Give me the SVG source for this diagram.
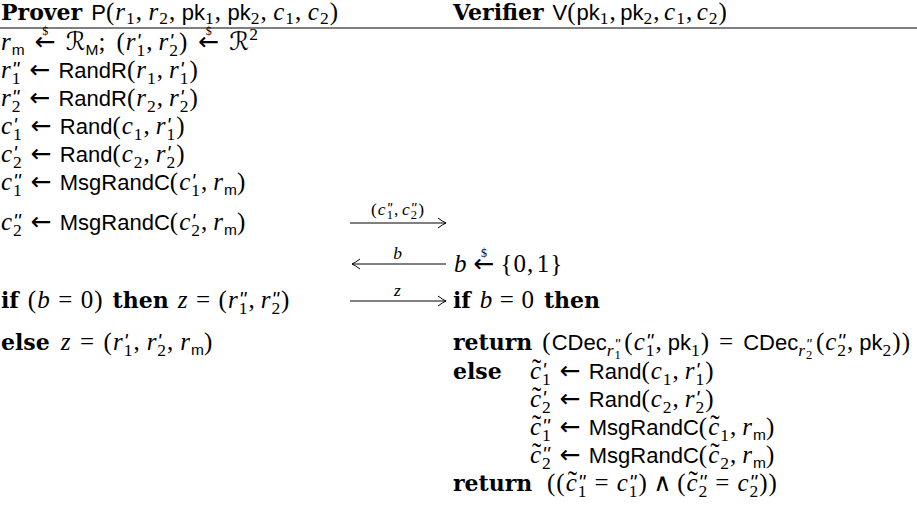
<svg xmlns="http://www.w3.org/2000/svg" width="917" height="508" viewBox="0 0 917 508">
<style>
text{font-family:"Liberation Serif",serif;font-size:25px;letter-spacing:1px;fill:#000}
.i{font-style:italic}
.s{font-family:"Liberation Sans",sans-serif;font-size:22px;letter-spacing:0}
.b{font-family:"DejaVu Serif",serif;font-weight:bold;font-size:22px;letter-spacing:0}
.sb{font-size:17.5px}
.si{font-size:17.5px;font-style:italic}
.ss{font-family:"Liberation Sans",sans-serif;font-size:15.5px;letter-spacing:0}
.sss{font-size:12.5px}
.pr{font-family:"Liberation Sans",sans-serif;font-style:italic;font-size:20px;letter-spacing:0}
.prs{font-family:"Liberation Sans",sans-serif;font-style:italic;font-size:14px;letter-spacing:0}
.a{font-family:"DejaVu Sans",sans-serif;letter-spacing:0}
.d{font-size:12px;letter-spacing:0}
.cal{font-family:"DejaVu Serif","DejaVu Sans","Noto Sans",serif;letter-spacing:0}
.tl{font-size:28px;letter-spacing:0}
.lab{font-size:17.5px}
.ln{stroke:#000;stroke-width:1;fill:none}
</style>
<defs>
<marker id="ah" viewBox="-9 -6 10 12" refX="0" refY="0" markerWidth="10" markerHeight="12" markerUnits="userSpaceOnUse" orient="auto-start-reverse"><path d="M-8,-5 Q-3,-1.2 0,0 Q-3,1.2 -8,5" fill="none" stroke="#000" stroke-width="1"/></marker>
</defs>
<rect width="917" height="508" fill="#fff"/>
<g id="header">
<line class="ln" x1="0" y1="28" x2="917" y2="28"/>
</g>
<g id="prover">
<text x="1" y="20"><tspan class="b">Prover</tspan><tspan class="s" dx="9">P</tspan><tspan>(</tspan><tspan class="i">r</tspan><tspan class="sb" dy="4">1</tspan><tspan dy="-4">,</tspan><tspan class="i" dx="5.5">r</tspan><tspan class="sb" dy="4">2</tspan><tspan dy="-4">,</tspan><tspan class="s" dx="5.5">pk</tspan><tspan class="sb" dy="4">1</tspan><tspan dy="-4">,</tspan><tspan class="s" dx="5.5">pk</tspan><tspan class="sb" dy="4">2</tspan><tspan dy="-4">,</tspan><tspan class="i" dx="5.5">c</tspan><tspan class="sb" dy="4">1</tspan><tspan dy="-4">,</tspan><tspan class="i" dx="5.5">c</tspan><tspan class="sb" dy="4">2</tspan><tspan dy="-4">)</tspan></text>
<text x="1" y="50"><tspan class="i">r</tspan><tspan class="ss" dy="4.5">m</tspan><tspan class="a" dx="10" dy="-4.5">←</tspan><tspan class="d" dx="-13.45" dy="-15">$</tspan><tspan class="cal" dx="17.5" dy="15">ℛ</tspan><tspan class="ss" dy="4.5">M</tspan><tspan dy="-4.5">;</tspan><tspan dx="10">(</tspan><tspan class="i">r</tspan><tspan class="sb" dy="5.5">1</tspan><tspan class="pr" dx="-9.75" dy="-7.5">'</tspan><tspan dx="5.9" dy="2">,</tspan><tspan class="i" dx="5">r</tspan><tspan class="sb" dy="5.5">2</tspan><tspan class="pr" dx="-9.75" dy="-7.5">'</tspan><tspan dx="5.9" dy="2">)</tspan><tspan class="a" dx="10">←</tspan><tspan class="d" dx="-13.45" dy="-15">$</tspan><tspan class="cal" dx="17.5" dy="15">ℛ</tspan><tspan class="sb" dy="-10">2</tspan></text>
<text x="1" y="78"><tspan class="i">r</tspan><tspan class="sb" dy="5.5">1</tspan><tspan class="pr" dx="-9.75" dy="-7.5">''</tspan><tspan class="a" dx="10.1" dy="2">←</tspan><tspan class="s" dx="8">RandR</tspan><tspan>(</tspan><tspan class="i">r</tspan><tspan class="sb" dy="5.5">1</tspan><tspan dy="-5.5">,</tspan><tspan class="i" dx="5">r</tspan><tspan class="sb" dy="5.5">1</tspan><tspan class="pr" dx="-9.75" dy="-7.5">'</tspan><tspan dx="5.9" dy="2">)</tspan></text>
<text x="1" y="106"><tspan class="i">r</tspan><tspan class="sb" dy="5.5">2</tspan><tspan class="pr" dx="-9.75" dy="-7.5">''</tspan><tspan class="a" dx="10.1" dy="2">←</tspan><tspan class="s" dx="8">RandR</tspan><tspan>(</tspan><tspan class="i">r</tspan><tspan class="sb" dy="5.5">2</tspan><tspan dy="-5.5">,</tspan><tspan class="i" dx="5">r</tspan><tspan class="sb" dy="5.5">2</tspan><tspan class="pr" dx="-9.75" dy="-7.5">'</tspan><tspan dx="5.9" dy="2">)</tspan></text>
<text x="1" y="134"><tspan class="i">c</tspan><tspan class="sb" dy="5.5">1</tspan><tspan class="pr" dx="-9.75" dy="-7.5">'</tspan><tspan class="a" dx="13.9" dy="2">←</tspan><tspan class="s" dx="8">Rand</tspan><tspan>(</tspan><tspan class="i">c</tspan><tspan class="sb" dy="5.5">1</tspan><tspan dy="-5.5">,</tspan><tspan class="i" dx="5">r</tspan><tspan class="sb" dy="5.5">1</tspan><tspan class="pr" dx="-9.75" dy="-7.5">'</tspan><tspan dx="5.9" dy="2">)</tspan></text>
<text x="1" y="162"><tspan class="i">c</tspan><tspan class="sb" dy="5.5">2</tspan><tspan class="pr" dx="-9.75" dy="-7.5">'</tspan><tspan class="a" dx="13.9" dy="2">←</tspan><tspan class="s" dx="8">Rand</tspan><tspan>(</tspan><tspan class="i">c</tspan><tspan class="sb" dy="5.5">2</tspan><tspan dy="-5.5">,</tspan><tspan class="i" dx="5">r</tspan><tspan class="sb" dy="5.5">2</tspan><tspan class="pr" dx="-9.75" dy="-7.5">'</tspan><tspan dx="5.9" dy="2">)</tspan></text>
<text x="1" y="190"><tspan class="i">c</tspan><tspan class="sb" dy="5.5">1</tspan><tspan class="pr" dx="-9.75" dy="-7.5">''</tspan><tspan class="a" dx="10.1" dy="2">←</tspan><tspan class="s" dx="8">MsgRandC</tspan><tspan>(</tspan><tspan class="i">c</tspan><tspan class="sb" dy="5.5">1</tspan><tspan class="pr" dx="-9.75" dy="-7.5">'</tspan><tspan dx="5.9" dy="2">,</tspan><tspan class="i" dx="5">r</tspan><tspan class="ss" dy="4.5">m</tspan><tspan dy="-4.5">)</tspan></text>
<text x="1" y="230"><tspan class="i">c</tspan><tspan class="sb" dy="5.5">2</tspan><tspan class="pr" dx="-9.75" dy="-7.5">''</tspan><tspan class="a" dx="10.1" dy="2">←</tspan><tspan class="s" dx="8">MsgRandC</tspan><tspan>(</tspan><tspan class="i">c</tspan><tspan class="sb" dy="5.5">2</tspan><tspan class="pr" dx="-9.75" dy="-7.5">'</tspan><tspan dx="5.9" dy="2">,</tspan><tspan class="i" dx="5">r</tspan><tspan class="ss" dy="4.5">m</tspan><tspan dy="-4.5">)</tspan></text>
<text x="1" y="308"><tspan class="b">if</tspan><tspan dx="9">(</tspan><tspan class="i">b</tspan><tspan dx="7.5">=</tspan><tspan dx="7.5">0)</tspan><tspan class="b" dx="9">then</tspan><tspan class="i" dx="9">z</tspan><tspan dx="7.5">=</tspan><tspan dx="7.5">(</tspan><tspan class="i">r</tspan><tspan class="sb" dy="5.5">1</tspan><tspan class="pr" dx="-9.75" dy="-7.5">''</tspan><tspan dx="2.1" dy="2">,</tspan><tspan class="i" dx="5">r</tspan><tspan class="sb" dy="5.5">2</tspan><tspan class="pr" dx="-9.75" dy="-7.5">''</tspan><tspan dx="2.1" dy="2">)</tspan></text>
<text x="1" y="350"><tspan class="b">else</tspan><tspan class="i" dx="11">z</tspan><tspan dx="8.5">=</tspan><tspan dx="8.5">(</tspan><tspan class="i">r</tspan><tspan class="sb" dy="5.5">1</tspan><tspan class="pr" dx="-9.75" dy="-7.5">'</tspan><tspan dx="5.9" dy="2">,</tspan><tspan class="i" dx="6">r</tspan><tspan class="sb" dy="5.5">2</tspan><tspan class="pr" dx="-9.75" dy="-7.5">'</tspan><tspan dx="5.9" dy="2">,</tspan><tspan class="i" dx="6">r</tspan><tspan class="ss" dy="4.5">m</tspan><tspan dy="-4.5">)</tspan></text>
</g>
<g id="verifier">
<text x="453" y="20"><tspan class="b">Verifier</tspan><tspan class="s" dx="9">V</tspan><tspan>(</tspan><tspan class="s">pk</tspan><tspan class="sb" dy="4">1</tspan><tspan dy="-4">,</tspan><tspan class="s" dx="3.5">pk</tspan><tspan class="sb" dy="4">2</tspan><tspan dy="-4">,</tspan><tspan class="i" dx="3.5">c</tspan><tspan class="sb" dy="4">1</tspan><tspan dy="-4">,</tspan><tspan class="i" dx="3.5">c</tspan><tspan class="sb" dy="4">2</tspan><tspan dy="-4">)</tspan></text>
<text x="454" y="272"><tspan class="i">b</tspan><tspan class="a" dx="6">←</tspan><tspan class="d" dx="-13.45" dy="-15">$</tspan><tspan dx="13.5" dy="15">{0,</tspan><tspan dx="2.5">1}</tspan></text>
<text x="453" y="308"><tspan class="b">if</tspan><tspan class="i" dx="9">b</tspan><tspan dx="6.5">=</tspan><tspan dx="6.5">0</tspan><tspan class="b" dx="9">then</tspan></text>
<text x="453" y="350"><tspan class="b">return</tspan><tspan dx="10">(</tspan><tspan class="s">CDec</tspan><tspan class="si" dy="5.5">r</tspan><tspan class="sss" dy="3.5">1</tspan><tspan class="prs" dx="-7.25" dy="-10">''</tspan><tspan dx="4.5" dy="1">(</tspan><tspan class="i">c</tspan><tspan class="sb" dy="5.5">1</tspan><tspan class="pr" dx="-9.75" dy="-7.5">''</tspan><tspan dx="2.1" dy="2">,</tspan><tspan class="s" dx="5">pk</tspan><tspan class="sb" dy="5.5">1</tspan><tspan dy="-5.5">)</tspan><tspan dx="9">=</tspan><tspan class="s" dx="9">CDec</tspan><tspan class="si" dy="5.5">r</tspan><tspan class="sss" dy="3.5">2</tspan><tspan class="prs" dx="-7.25" dy="-10">''</tspan><tspan dx="4.5" dy="1">(</tspan><tspan class="i">c</tspan><tspan class="sb" dy="5.5">2</tspan><tspan class="pr" dx="-9.75" dy="-7.5">''</tspan><tspan dx="2.1" dy="2">,</tspan><tspan class="s" dx="5">pk</tspan><tspan class="sb" dy="5.5">2</tspan><tspan dy="-5.5">))</tspan></text>
<text x="453" y="379" class="b">else</text>
<text x="528" y="379"><tspan class="tl" dx="2" dy="-1">˜</tspan><tspan class="i" dx="-11.3" dy="1">c</tspan><tspan class="sb" dy="5.5">1</tspan><tspan class="pr" dx="-9.75" dy="-7.5">'</tspan><tspan class="a" dx="13.9" dy="2">←</tspan><tspan class="s" dx="8">Rand</tspan><tspan>(</tspan><tspan class="i">c</tspan><tspan class="sb" dy="5.5">1</tspan><tspan dy="-5.5">,</tspan><tspan class="i" dx="5">r</tspan><tspan class="sb" dy="5.5">1</tspan><tspan class="pr" dx="-9.75" dy="-7.5">'</tspan><tspan dx="5.9" dy="2">)</tspan></text>
<text x="528" y="407"><tspan class="tl" dx="2" dy="-1">˜</tspan><tspan class="i" dx="-11.3" dy="1">c</tspan><tspan class="sb" dy="5.5">2</tspan><tspan class="pr" dx="-9.75" dy="-7.5">'</tspan><tspan class="a" dx="13.9" dy="2">←</tspan><tspan class="s" dx="8">Rand</tspan><tspan>(</tspan><tspan class="i">c</tspan><tspan class="sb" dy="5.5">2</tspan><tspan dy="-5.5">,</tspan><tspan class="i" dx="5">r</tspan><tspan class="sb" dy="5.5">2</tspan><tspan class="pr" dx="-9.75" dy="-7.5">'</tspan><tspan dx="5.9" dy="2">)</tspan></text>
<text x="528" y="435"><tspan class="tl" dx="2" dy="-1">˜</tspan><tspan class="i" dx="-11.3" dy="1">c</tspan><tspan class="sb" dy="5.5">1</tspan><tspan class="pr" dx="-9.75" dy="-7.5">''</tspan><tspan class="a" dx="10.1" dy="2">←</tspan><tspan class="s" dx="8">MsgRandC</tspan><tspan>(</tspan><tspan class="tl" dx="2" dy="-1">˜</tspan><tspan class="i" dx="-11.3" dy="1">c</tspan><tspan class="sb" dy="5.5">1</tspan><tspan dy="-5.5">,</tspan><tspan class="i" dx="5">r</tspan><tspan class="ss" dy="4.5">m</tspan><tspan dy="-4.5">)</tspan></text>
<text x="528" y="463"><tspan class="tl" dx="2" dy="-1">˜</tspan><tspan class="i" dx="-11.3" dy="1">c</tspan><tspan class="sb" dy="5.5">2</tspan><tspan class="pr" dx="-9.75" dy="-7.5">''</tspan><tspan class="a" dx="10.1" dy="2">←</tspan><tspan class="s" dx="8">MsgRandC</tspan><tspan>(</tspan><tspan class="tl" dx="2" dy="-1">˜</tspan><tspan class="i" dx="-11.3" dy="1">c</tspan><tspan class="sb" dy="5.5">2</tspan><tspan dy="-5.5">,</tspan><tspan class="i" dx="5">r</tspan><tspan class="ss" dy="4.5">m</tspan><tspan dy="-4.5">)</tspan></text>
<text x="453" y="491" class="b">return</text>
<text x="547" y="491"><tspan>((</tspan><tspan class="tl" dx="2" dy="-1">˜</tspan><tspan class="i" dx="-11.3" dy="1">c</tspan><tspan class="sb" dy="5.5">1</tspan><tspan class="pr" dx="-9.75" dy="-7.5">''</tspan><tspan dx="9.1" dy="2">=</tspan><tspan class="i" dx="7">c</tspan><tspan class="sb" dy="5.5">1</tspan><tspan class="pr" dx="-9.75" dy="-7.5">''</tspan><tspan dx="2.1" dy="2">)</tspan><tspan class="a" dx="5.5">∧</tspan><tspan dx="5.5">(</tspan><tspan class="tl" dx="2" dy="-1">˜</tspan><tspan class="i" dx="-11.3" dy="1">c</tspan><tspan class="sb" dy="5.5">2</tspan><tspan class="pr" dx="-9.75" dy="-7.5">''</tspan><tspan dx="9.1" dy="2">=</tspan><tspan class="i" dx="7">c</tspan><tspan class="sb" dy="5.5">2</tspan><tspan class="pr" dx="-9.75" dy="-7.5">''</tspan><tspan dx="2.1" dy="2">))</tspan></text>
</g>
<g id="connectors">
<line class="ln" x1="350" y1="223" x2="446" y2="223" marker-end="url(#ah)"/>
<text class="lab" x="398" y="215" text-anchor="middle"><tspan>(</tspan><tspan class="i">c</tspan><tspan class="sss" dy="4">1</tspan><tspan class="prs" dx="-7.25" dy="-6">''</tspan><tspan dx="1.9" dy="2">,</tspan><tspan class="i" dx="2.8">c</tspan><tspan class="sss" dy="4">2</tspan><tspan class="prs" dx="-7.25" dy="-6">''</tspan><tspan dx="1.9" dy="2">)</tspan></text>
<line class="ln" x1="352" y1="264" x2="446" y2="264" marker-start="url(#ah)"/>
<text class="lab i" x="398" y="259" text-anchor="middle">b</text>
<line class="ln" x1="350" y1="301" x2="446" y2="301" marker-end="url(#ah)"/>
<text class="lab i" x="398" y="296" text-anchor="middle">z</text>
</g>
</svg>
